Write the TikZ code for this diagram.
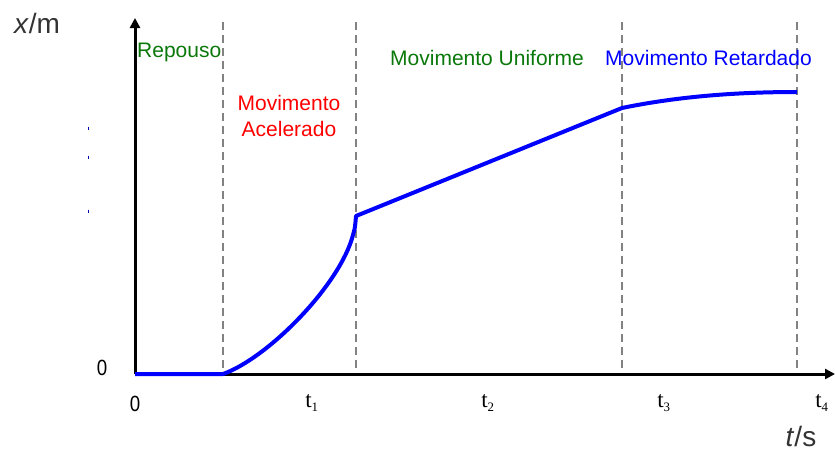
\documentclass[tikz,border=0pt]{standalone}
\usepackage{fontspec}
\setmainfont{Liberation Sans}
\newfontfamily\serifnum{Liberation Serif}
\usetikzlibrary{arrows.meta}
\definecolor{mygreen}{RGB}{10,120,10}
\definecolor{dashgray}{RGB}{130,130,130}
\tikzset{
  axisline/.style={line width=3pt,-{Triangle[length=10pt,width=10pt]}},
  guide/.style={dashgray,line width=1.8pt,dash pattern=on 8pt off 5pt},
  motion/.style={blue,line width=4pt,line join=round},
  phase/.style={font=\fontsize{21}{24}\selectfont,inner sep=0pt},
  ticklab/.style={font=\fontsize{23}{25}\selectfont\serifnum,inner sep=0pt},
  zerolab/.style={font=\fontsize{22}{24}\selectfont,inner sep=0pt},
  axlab/.style={font=\fontsize{28}{30}\selectfont,inner sep=0pt,text=black!80},
}
\begin{document}
\begin{tikzpicture}[x=1pt,y=-1pt]
\useasboundingbox (0,0) rectangle (835,453);
% coordinates
\coordinate (O) at (135,374);
\coordinate (ytop) at (135,18);
\coordinate (xend) at (835,374);
\coordinate (p0) at (223,374);
\coordinate (p1) at (356,216);
\coordinate (p2) at (622,108);
\coordinate (p3) at (797,92);
% dashed guides
\foreach \xx/\nm in {223/a,356/b,622/c,797/d}{
  \coordinate (g\nm top) at (\xx,22);
  \coordinate (g\nm bot) at (\xx,370);
  \draw[guide] (g\nm top) -- (g\nm bot);
}
% tiny marks
\foreach \yy/\nm in {128/a,157/b,211/c}{
  \coordinate (m\nm1) at (88,\yy-1.5);
  \coordinate (m\nm2) at (88,\yy+1.5);
  \draw[blue!70!black,line width=0.8pt] (m\nm1) -- (m\nm2);
}
% axes
\draw[axisline] (O) -- (xend);
\draw[axisline] (O) -- (ytop);
% curve
\draw[motion] (O) -- (p0)
  .. controls (268,358) and (340,285) .. (353,235)
  .. controls (355,228) .. (p1)
  -- (p2)
  .. controls (680,96) and (740,92) .. (p3);
% labels
\node[axlab,anchor=base] (xlab) at (37,33) {\textit{x}/m};
\node[axlab,anchor=base] (tlab) at (801,446) {\textit{t}/s};
\node[phase,anchor=base west,text=mygreen] (rep) at (137,57) {Repouso};
\node[phase,anchor=base,text=red] (acc1) at (289,110) {Movimento};
\node[phase,anchor=base,text=red] (acc2) at (289,136) {Acelerado};
\node[phase,anchor=base west,text=mygreen] (uni) at (390,65) {Movimento Uniforme};
\node[phase,anchor=base west,text=blue] (ret) at (605,65) {Movimento Retardado};
\node[zerolab] (zy) at (102,368) {\scalebox{0.85}[1]{0}};
\node[zerolab] (zx) at (135,404) {\scalebox{0.85}[1]{0}};
\node[ticklab] (t1) at (312,403) {t\textsubscript{\scalebox{0.8}{1}}};
\node[ticklab] (t2) at (488,403) {t\textsubscript{\scalebox{0.8}{2}}};
\node[ticklab] (t3) at (664,403) {t\textsubscript{\scalebox{0.8}{3}}};
\node[ticklab] (t4) at (822,403) {t\textsubscript{\scalebox{0.8}{4}}};
\end{tikzpicture}
\end{document}
